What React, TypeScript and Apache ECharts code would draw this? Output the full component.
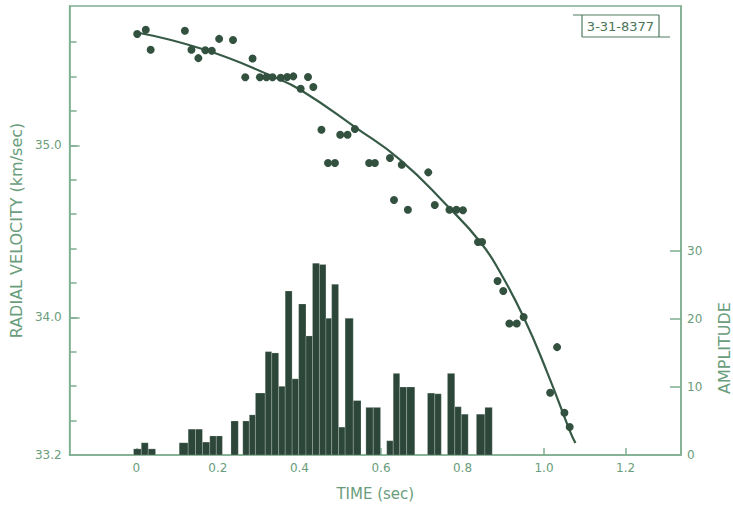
import React, { useEffect, useRef } from "react";
import * as echarts from "echarts";

// Histogram bins (time in sec) and amplitude
const binStart = [-0.007, 0.012, 0.029, 0.105, 0.127, 0.145, 0.162, 0.180, 0.196, 0.232, 0.261, 0.277, 0.292, 0.316, 0.332, 0.349, 0.365, 0.382, 0.398, 0.416, 0.432, 0.449, 0.465, 0.479, 0.496, 0.512, 0.532, 0.563, 0.581, 0.614, 0.630, 0.646, 0.663, 0.714, 0.732, 0.763, 0.781, 0.797, 0.834, 0.855];
const binEnd = [0.012, 0.029, 0.047, 0.127, 0.145, 0.162, 0.180, 0.196, 0.211, 0.250, 0.277, 0.292, 0.316, 0.332, 0.349, 0.365, 0.382, 0.398, 0.416, 0.432, 0.449, 0.465, 0.479, 0.496, 0.512, 0.532, 0.551, 0.581, 0.599, 0.630, 0.646, 0.663, 0.683, 0.732, 0.748, 0.781, 0.797, 0.814, 0.855, 0.873];
const amplitude = [0.9, 1.8, 0.9, 1.8, 3.8, 3.8, 1.9, 2.8, 2.8, 5.0, 5.0, 5.9, 9.1, 15.2, 15.0, 10.1, 24.1, 11.2, 22.2, 17.5, 28.2, 28.0, 20.1, 25.1, 4.1, 20.1, 8.0, 7.0, 7.0, 2.1, 12.0, 10.0, 10.0, 9.1, 9.0, 12.0, 7.1, 6.0, 6.0, 7.0];

// Radial velocity measurements
const dotTime = [0.002, 0.023, 0.035, 0.119, 0.135, 0.152, 0.169, 0.185, 0.203, 0.237, 0.267, 0.285, 0.303, 0.319, 0.334, 0.354, 0.370, 0.385, 0.403, 0.421, 0.434, 0.454, 0.470, 0.487, 0.500, 0.518, 0.536, 0.571, 0.585, 0.622, 0.632, 0.651, 0.666, 0.716, 0.732, 0.768, 0.785, 0.801, 0.838, 0.848, 0.886, 0.900, 0.915, 0.933, 0.950, 1.015, 1.032, 1.050, 1.063];
const dotVelocity = [35.647, 35.672, 35.556, 35.666, 35.556, 35.507, 35.553, 35.550, 35.619, 35.612, 35.396, 35.505, 35.396, 35.396, 35.396, 35.393, 35.397, 35.401, 35.329, 35.397, 35.339, 35.091, 34.897, 34.897, 35.062, 35.062, 35.095, 34.897, 34.897, 34.926, 34.682, 34.887, 34.626, 34.843, 34.653, 34.626, 34.626, 34.623, 34.438, 34.438, 34.211, 34.153, 33.964, 33.964, 34.002, 33.562, 33.827, 33.446, 33.363];

// Fitted curve
const curveTime = [-0.005, 0.166, 0.338, 0.404, 0.538, 0.648, 0.763, 0.844, 0.893, 0.950, 1.007, 1.064, 1.077];
const curveVelocity = [35.659, 35.557, 35.397, 35.32, 35.103, 34.914, 34.647, 34.437, 34.259, 34.001, 33.685, 33.336, 33.27];

// Ticks and labels
const timeTicks = [0, 0.2, 0.4, 0.6, 0.8, 1.0, 1.2];
const velocityTicks = [33.4, 33.6, 33.8, 34.0, 34.2, 34.4, 34.6, 34.8, 35.0, 35.2, 35.4, 35.6];
const velocityMajorTicks = [34.0, 35.0];
const velocityLabels = [33.2, 34.0, 35.0];
const amplitudeTicks = [10, 20, 30];
const amplitudeLabels = [0, 10, 20, 30];
const plateId = "3-31-8377";

const AXIS = "#7fae90";
const TEXT = "#6a9d7c";
const DARK = "#2c4739";
const FONT = "'DejaVu Sans', 'Liberation Sans', sans-serif";

export default function App() {
  const ref = useRef<HTMLDivElement>(null);
  useEffect(() => {
    if (!ref.current) return;
    const chart = echarts.init(ref.current, null, { renderer: "svg" });
    const bars = binStart.map((s, i) => [s, binEnd[i], amplitude[i]]);
    const dots = dotTime.map((t, i) => [t, dotVelocity[i]]);
    const curve = curveTime.map((t, i) => [t, curveVelocity[i]]);
    const option: any = {
      animation: false,
      backgroundColor: "#ffffff",
      grid: {
        left: 68,
        right: 52,
        top: 6,
        bottom: 56,
        show: true,
        borderColor: AXIS,
        borderWidth: 1.5,
        backgroundColor: "transparent",
      },
      xAxis: {
        type: "value",
        min: -0.1638,
        max: 1.336,
        name: "TIME (sec)",
        nameLocation: "middle",
        nameGap: 31,
        nameTextStyle: { color: TEXT, fontFamily: FONT, fontSize: 15 },
        axisLine: { show: true, onZero: false, lineStyle: { color: AXIS, width: 1.5 } },
        axisTick: { show: true, inside: true, length: 7, customValues: timeTicks, lineStyle: { color: AXIS, width: 1.5 } },
        axisLabel: {
          customValues: timeTicks,
          color: TEXT,
          fontFamily: FONT,
          fontSize: 12,
          margin: 7,
          formatter: (v: number) => (v === 0 ? "0" : v.toFixed(1)),
        },
        splitLine: { show: false },
      },
      yAxis: [
        {
          type: "value",
          min: 33.2,
          max: 35.81,
          position: "left",
          name: "RADIAL VELOCITY (km/sec)",
          nameLocation: "middle",
          nameGap: 42,
          nameTextStyle: { color: TEXT, fontFamily: FONT, fontSize: 16 },
          axisLine: { show: true, onZero: false, lineStyle: { color: AXIS, width: 1.5 } },
          axisTick: { show: true, inside: true, length: 7, customValues: velocityTicks, lineStyle: { color: AXIS, width: 1.5 } },
          axisLabel: {
            customValues: velocityLabels,
            color: TEXT,
            fontFamily: FONT,
            fontSize: 12,
            margin: 8,
            formatter: (v: number) => v.toFixed(1),
          },
          splitLine: { show: false },
        },
        {
          type: "value",
          min: 33.2,
          max: 35.81,
          position: "left",
          axisLine: { show: false, onZero: false },
          axisTick: { show: true, inside: true, length: 10, customValues: velocityMajorTicks, lineStyle: { color: AXIS, width: 1.5 } },
          axisLabel: { show: false },
          splitLine: { show: false },
        },
        {
          type: "value",
          min: 0,
          max: 66,
          position: "right",
          axisLine: { show: true, onZero: false, lineStyle: { color: AXIS, width: 1.5 } },
          axisTick: { show: true, inside: true, length: 11, customValues: amplitudeTicks, lineStyle: { color: AXIS, width: 1.5 } },
          axisLabel: {
            customValues: amplitudeLabels,
            color: TEXT,
            fontFamily: FONT,
            fontSize: 12,
            margin: 6,
          },
          splitLine: { show: false },
        },
      ],
      series: [
        {
          type: "custom",
          xAxisIndex: 0,
          yAxisIndex: 2,
          encode: { x: [0, 1], y: 2 },
          data: bars,
          renderItem: (params: any, api: any) => {
            const p0 = api.coord([api.value(0), 0]);
            const p1 = api.coord([api.value(1), api.value(2)]);
            return {
              type: "rect",
              shape: { x: p0[0], y: p1[1], width: p1[0] - p0[0], height: p0[1] - p1[1] },
              style: { fill: DARK, stroke: "rgba(255,255,255,0.4)", lineWidth: 0.5 },
            };
          },
          z: 2,
        },
        {
          type: "line",
          yAxisIndex: 0,
          data: curve,
          smooth: 0.5,
          showSymbol: false,
          lineStyle: { color: "#365a46", width: 2.2 },
          z: 3,
        },
        {
          type: "scatter",
          yAxisIndex: 0,
          data: dots,
          symbol: "circle",
          symbolSize: 8,
          itemStyle: { color: "#33513f", opacity: 1 },
          z: 4,
        },
      ],
      graphic: [
        { type: "line", shape: { x1: 573, y1: 15, x2: 659, y2: 15 }, style: { stroke: "#4f7a5f", lineWidth: 1.2 } },
        { type: "line", shape: { x1: 582, y1: 15, x2: 582, y2: 37 }, style: { stroke: "#4f7a5f", lineWidth: 1.2 } },
        { type: "line", shape: { x1: 659, y1: 15, x2: 659, y2: 37 }, style: { stroke: "#4f7a5f", lineWidth: 1.2 } },
        { type: "line", shape: { x1: 582, y1: 37, x2: 670, y2: 37 }, style: { stroke: "#4f7a5f", lineWidth: 1.2 } },
        {
          type: "text",
          x: 620.5,
          y: 26.5,
          style: { text: plateId, fill: "#4a7559", font: `13px ${FONT}`, textAlign: "center", textVerticalAlign: "middle" },
        },
        {
          type: "text",
          x: 724,
          y: 348,
          rotation: Math.PI / 2,
          style: { text: "AMPLITUDE", fill: TEXT, font: `16px ${FONT}`, textAlign: "center", textVerticalAlign: "middle" },
        },
      ],
    };
    chart.setOption(option);
    return () => chart.dispose();
  }, []);
  return <div ref={ref} style={{ position: "fixed", left: 0, top: 0, width: 733, height: 511 }} />;
}
